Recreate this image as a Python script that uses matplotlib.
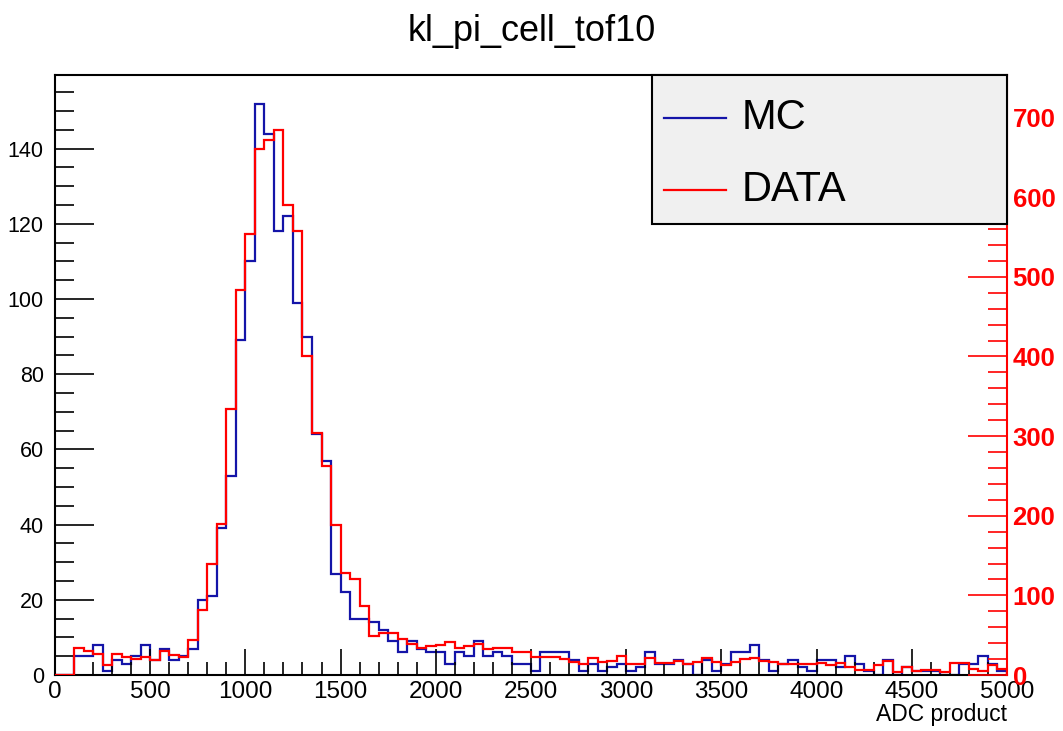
import matplotlib
matplotlib.use("Agg")
import matplotlib.pyplot as plt
import numpy as np
from matplotlib.patches import Rectangle
from matplotlib.lines import Line2D
from matplotlib.ticker import MultipleLocator

plt.rcParams['font.family'] = ['Liberation Sans', 'DejaVu Sans']

# histogram: 100 bins, 0 - 5000
x_min, x_max, n_bins = 0, 5000, 100

mc_counts = [0, 0, 5, 5, 8, 1, 4, 3, 5, 8,
             4, 7, 4, 5, 7, 20, 21, 39, 53, 89,
             110, 152, 144, 118, 122, 99, 90, 64, 57, 27,
             22, 15, 15, 14, 12, 9, 6, 9, 7, 6,
             6, 3, 6, 5, 9, 5, 6, 5, 3, 3,
             1, 6, 6, 6, 4, 1, 3, 1, 2, 3,
             1, 2, 6, 3, 3, 4, 3, 0, 4, 1,
             3, 6, 6, 8, 4, 1, 3, 4, 2, 1,
             4, 4, 2, 5, 3, 1, 0, 4, 0, 2,
             1, 1, 1, 0, 0, 3, 3, 5, 3, 1]

data_counts = [0, 0, 34, 30, 27, 13, 27, 22, 20, 22,
               19, 30, 25, 23, 44, 82, 140, 190, 334, 484,
               554, 660, 672, 685, 590, 557, 401, 304, 263, 188,
               128, 120, 87, 49, 53, 53, 45, 39, 34, 36,
               38, 41, 34, 36, 39, 33, 34, 34, 29, 29,
               23, 23, 22, 20, 16, 14, 21, 16, 18, 24,
               14, 14, 21, 15, 15, 17, 14, 16, 21, 16,
               13, 16, 20, 21, 18, 16, 14, 14, 14, 14,
               15, 13, 15, 10, 6, 6, 13, 17, 4, 10,
               5, 6, 6, 4, 15, 15, 8, 5, 13, 8]

title = "kl_pi_cell_tof10"
x_title = "ADC product"
labels = ["MC", "DATA"]
mc_color = '#1414a8'
data_color = '#ff0000'

edges = np.linspace(x_min, x_max, n_bins + 1)

fig = plt.figure(figsize=(10.63, 7.31), dpi=100)
ax = fig.add_axes([0.0517, 0.0766, 0.8956, 0.8208])
ax2 = ax.twinx()

ax.stairs(mc_counts, edges, color=mc_color, linewidth=1.6)
ax2.stairs(data_counts, edges, color=data_color, linewidth=1.6)

ax.set_xlim(x_min, x_max)
ax.set_ylim(0, 1.05 * max(mc_counts))
ax2.set_ylim(0, 1.1 * max(data_counts))

# left axis
ax.xaxis.set_major_locator(MultipleLocator(500))
ax.xaxis.set_minor_locator(MultipleLocator(100))
ax.yaxis.set_major_locator(MultipleLocator(20))
ax.yaxis.set_minor_locator(MultipleLocator(5))
ax.tick_params(axis='x', which='major', direction='in', length=19, width=1.2,
               top=False, labelsize=17.5, pad=4)
ax.tick_params(axis='x', which='minor', direction='in', length=9.5, width=1.2, top=False)
ax.tick_params(axis='y', which='major', direction='in', length=28, width=1.2,
               right=False, labelsize=15.5, pad=8)
ax.tick_params(axis='y', which='minor', direction='in', length=14, width=1.2, right=False)

# right axis (red)
ax2.yaxis.set_major_locator(MultipleLocator(100))
ax2.yaxis.set_minor_locator(MultipleLocator(20))
ax2.tick_params(axis='y', which='major', direction='in', length=28, width=1.2,
                colors=data_color, labelsize=18.5, pad=4, left=False)
ax2.tick_params(axis='y', which='minor', direction='in', length=14, width=1.2,
                colors=data_color, left=False)
for lab in ax2.get_yticklabels():
    lab.set_fontweight('bold')
ax2.spines['right'].set_color(data_color)
ax2.spines['right'].set_linewidth(1.5)
for s in ['left', 'top', 'bottom']:
    ax.spines[s].set_linewidth(1.5)
    ax2.spines[s].set_visible(False)
ax.spines['right'].set_visible(False)

fig.text(0.5, 0.957, title, ha='center', va='center', fontsize=26)
fig.text(0.9473, 0.022, x_title, ha='right', va='center', fontsize=16.5)

# legend box drawn by hand (ROOT style)
ax2.add_patch(Rectangle((0.627, 0.752), 0.373, 0.248, transform=ax2.transAxes,
                        facecolor='#f0f0f0', edgecolor='black', linewidth=1.5,
                        zorder=10, clip_on=False))
for i, (lab, col) in enumerate(zip(labels, [mc_color, data_color])):
    yy = 0.928 - i * 0.12
    ax2.add_line(Line2D([0.640, 0.705], [yy, yy], transform=ax2.transAxes,
                        color=col, linewidth=1.6, zorder=11))
    ax2.text(0.721, yy, lab, transform=ax2.transAxes, fontsize=30,
             va='center', ha='left', zorder=11)

fig.savefig("out.png", dpi=100)
